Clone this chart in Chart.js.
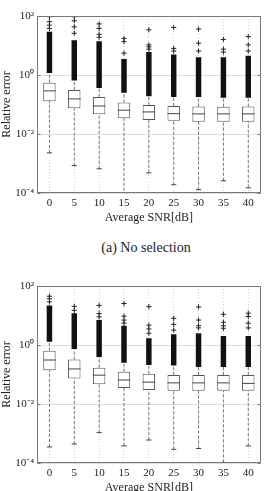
<!DOCTYPE html>
<html>
<head>
<meta charset="utf-8">
<script src="https://cdn.jsdelivr.net/npm/chart.js@4"></script>
<style>
  html, body { margin: 0; padding: 0; background: #fff; overflow: hidden; }
  .panel { position: absolute; left: 0; width: 268px; height: 230px; }
  #caption {
    position: absolute; left: 0; top: 240px; width: 292px;
    text-align: center; font: 14px/16px "Liberation Serif", serif; color: #222;
  }
</style>
</head>
<body>
<div class="panel" style="top:0"><canvas id="chartA" width="268" height="230"></canvas></div>
<div id="caption">(a) No selection</div>
<div class="panel" style="top:270px"><canvas id="chartB" width="268" height="230"></canvas></div>
<script>
const snr = ['0', '5', '10', '15', '20', '25', '30', '35', '40'];
const yTicks = [1e-4, 1e-2, 1, 100];
const yTickText = ['10⁻⁴', '10⁻²', '10⁰', '10²'];

// (a) no selection
const q1A = [0.13, 0.074, 0.047, 0.034, 0.030, 0.028, 0.026, 0.026, 0.026];
const medA = [0.29, 0.155, 0.089, 0.064, 0.056, 0.049, 0.048, 0.048, 0.048];
const q3A = [0.55, 0.31, 0.18, 0.118, 0.096, 0.089, 0.085, 0.084, 0.085];
const lowA = [0.0023, 8.5e-4, 6.6e-4, 8e-5, 4.8e-4, 1.9e-4, 1.3e-4, 2.6e-4, 1.5e-4];
const denseLoA = [1.17, 0.65, 0.36, 0.25, 0.19, 0.18, 0.18, 0.17, 0.17];
const denseHiA = [29, 15, 14, 3.5, 6, 5, 4, 4, 4.5];
const sparseA = [
  [95, 64, 49, 38], [95, 69, 43, 26], [54, 38, 24, 19], [17.5, 13.5, 5.5],
  [34, 10.5, 9, 7.5], [41, 8, 6.5], [36, 12, 6.5], [16, 7.5, 6], [20, 10.5, 6.5]
];

// second panel
const q1B = [0.14, 0.073, 0.047, 0.035, 0.030, 0.028, 0.028, 0.028, 0.028];
const medB = [0.31, 0.154, 0.095, 0.065, 0.055, 0.052, 0.052, 0.052, 0.050];
const q3B = [0.64, 0.32, 0.17, 0.125, 0.105, 0.096, 0.096, 0.096, 0.096];
const lowB = [3.5e-4, 4.4e-4, 1.07e-3, 3.8e-4, 6e-4, 2.9e-4, 3.1e-4, 1.05e-4, 3.8e-4];
const denseLoB = [1.3, 0.73, 0.39, 0.25, 0.21, 0.2, 0.18, 0.18, 0.18];
const denseHiB = [22, 12, 7, 4.5, 1.7, 2.3, 2.5, 2.0, 2.0];
const sparseB = [
  [45, 37, 29], [20.5, 15], [22, 11.7, 9], [25.5, 9.5, 7, 5.5],
  [20, 4.7, 3.5, 2.5], [8, 5, 3.2], [19.5, 7, 4.5, 3.8], [11, 5.9, 4.5, 3.7], [12, 9.3, 5.5, 3.8]
];

const serif = '"Liberation Serif", "Times New Roman", serif';
const ink = '#222';

// box frame + small inner ticks on the right
const frame = {
  id: 'frame',
  afterDraw(chart) {
    const { ctx, chartArea: a, scales } = chart;
    ctx.save();
    ctx.strokeStyle = '#777';
    ctx.lineWidth = 1;
    const l = Math.round(a.left) + 0.5, t = Math.round(a.top) + 0.5;
    const r = Math.round(a.right) - 0.5, b = Math.round(a.bottom) - 0.5;
    ctx.strokeRect(l, t, r - l, b - t);
    yTicks.forEach(v => {
      const y = Math.round(scales.y.getPixelForValue(v)) + 0.5;
      ctx.beginPath();
      ctx.moveTo(r - 3, y); ctx.lineTo(r, y);
      ctx.moveTo(l, y); ctx.lineTo(l + 3, y);
      ctx.stroke();
    });
    ctx.restore();
  }
};

function whiskerPoints(q1, q3, low, denseLo) {
  const pts = [];
  snr.forEach((s, i) => {
    pts.push({ x: s, y: low[i] }, { x: s, y: q1[i] }, { x: s, y: null });
    pts.push({ x: s, y: q3[i] }, { x: s, y: denseLo[i] }, { x: s, y: null });
  });
  return pts;
}

function makeChart(id, q1, med, q3, low, denseLo, denseHi, sparse) {
  const outliers = sparse.flatMap((vals, i) => vals.map(v => ({ x: snr[i], y: v })));
  return new Chart(document.getElementById(id), {
    type: 'bar',
    data: {
      labels: snr,
      datasets: [
        {
          type: 'line', data: outliers, showLine: false,
          pointStyle: 'cross', pointRadius: 2.6, borderColor: ink, pointBorderWidth: 1
        },
        {
          type: 'line', data: med, showLine: false,
          pointStyle: 'line', pointRadius: 6.3, borderColor: '#444', pointBorderWidth: 1
        },
        {
          type: 'line', data: low, showLine: false,
          pointStyle: 'line', pointRadius: 2.6, borderColor: '#444', pointBorderWidth: 1
        },
        {
          data: q1.map((v, i) => [v, q3[i]]),
          backgroundColor: '#fff', borderColor: '#555', borderWidth: 1, borderSkipped: false,
          grouped: false, barPercentage: 0.5, categoryPercentage: 1
        },
        {
          data: denseLo.map((v, i) => [v, denseHi[i]]),
          backgroundColor: '#111', borderWidth: 0,
          grouped: false, barPercentage: 0.22, categoryPercentage: 1
        },
        {
          type: 'line', data: whiskerPoints(q1, q3, low, denseLo),
          borderColor: '#777', borderWidth: 1, borderDash: [3, 2],
          pointRadius: 0, spanGaps: false
        }
      ]
    },
    options: {
      responsive: false,
      devicePixelRatio: 1,
      animation: false,
      events: [],
      layout: { padding: { top: 16, right: 2, left: 0, bottom: 0 } },
      plugins: { legend: { display: false }, tooltip: { enabled: false } },
      scales: {
        x: {
          grid: { offset: false, color: '#cfcfcf', drawTicks: false },
          border: { display: false, dash: [1, 2] },
          ticks: { color: ink, font: { family: serif, size: 11 }, padding: 4, maxRotation: 0, autoSkip: false },
          title: { display: true, text: 'Average SNR[dB]', color: ink, font: { family: serif, size: 12 }, padding: { top: 0, bottom: 5 } },
          afterFit: s => { s.height = 37; }
        },
        y: {
          type: 'logarithmic', min: 1e-4, max: 100,
          afterBuildTicks: s => { s.ticks = yTicks.map(v => ({ value: v })); },
          grid: { color: '#dedede', drawTicks: false },
          border: { display: false },
          ticks: { color: ink, font: { family: serif, size: 11 }, padding: 3, callback: (v, i) => yTickText[i] },
          title: { display: true, text: 'Relative error', color: ink, font: { family: serif, size: 12 }, padding: 0 },
          afterFit: s => { s.width = 37; }
        }
      }
    },
    plugins: [frame]
  });
}

makeChart('chartA', q1A, medA, q3A, lowA, denseLoA, denseHiA, sparseA);
makeChart('chartB', q1B, medB, q3B, lowB, denseLoB, denseHiB, sparseB);
</script>
</body>
</html>
